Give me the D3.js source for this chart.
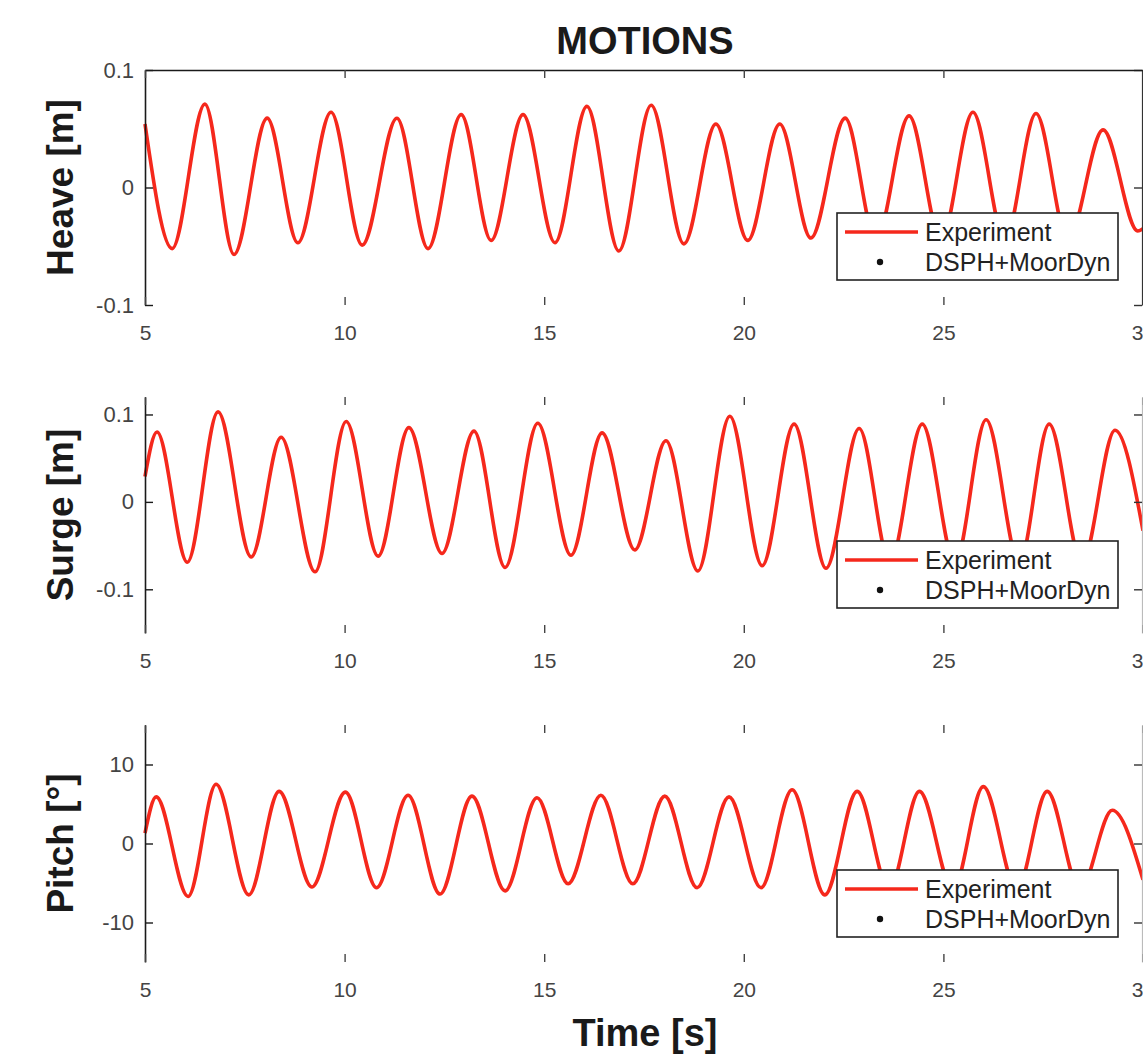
<!DOCTYPE html>
<html>
<head>
<meta charset="utf-8">
<script src="https://cdn.jsdelivr.net/npm/d3@7"></script>
<style>
  body { margin: 0; background: #fff; }
  text { font-family: "Liberation Sans", Arial, Helvetica, sans-serif; }
</style>
</head>
<body>
<div id="chart"></div>
<script>
// values: turning points of each record (time s, value)
const xTicks = [5, 10, 15, 20, 25, 30];

const heaveTime = [5.0, 5.68, 6.5, 7.23, 8.06, 8.83, 9.66, 10.44, 11.31, 12.09, 12.92, 13.67, 14.47, 15.27, 16.07, 16.87, 17.68, 18.5, 19.3, 20.1, 20.9, 21.68, 22.54, 23.31, 24.14, 24.94, 25.74, 26.54, 27.32, 28.12, 29.0, 29.87, 30.0];
const heaveVals = [0.054, -0.052, 0.071, -0.057, 0.059, -0.047, 0.064, -0.049, 0.059, -0.052, 0.062, -0.045, 0.062, -0.047, 0.069, -0.054, 0.070, -0.048, 0.054, -0.045, 0.054, -0.043, 0.059, -0.045, 0.061, -0.045, 0.064, -0.045, 0.063, -0.045, 0.049, -0.037, -0.035];

const surgeTime = [5.0, 5.3, 6.06, 6.83, 7.66, 8.41, 9.26, 10.04, 10.84, 11.61, 12.44, 13.24, 14.02, 14.84, 15.67, 16.45, 17.27, 18.05, 18.85, 19.65, 20.46, 21.26, 22.06, 22.89, 23.66, 24.47, 25.29, 26.07, 26.9, 27.65, 28.47, 29.3, 30.0];
const surgeVals = [0.029, 0.080, -0.069, 0.103, -0.063, 0.074, -0.080, 0.092, -0.062, 0.085, -0.059, 0.081, -0.075, 0.090, -0.061, 0.079, -0.055, 0.070, -0.079, 0.098, -0.073, 0.089, -0.076, 0.084, -0.070, 0.089, -0.070, 0.094, -0.070, 0.089, -0.070, 0.082, -0.033];

const pitchTime = [5.0, 5.28, 6.08, 6.78, 7.6, 8.36, 9.18, 10.02, 10.8, 11.59, 12.39, 13.19, 14.02, 14.82, 15.6, 16.42, 17.22, 18.02, 18.83, 19.63, 20.43, 21.21, 22.03, 22.84, 23.64, 24.4, 25.24, 26.0, 26.84, 27.6, 28.42, 29.23, 30.0];
const pitchVals = [1.3, 5.9, -6.7, 7.5, -6.5, 6.6, -5.5, 6.5, -5.6, 6.1, -6.4, 6.0, -6.0, 5.8, -5.1, 6.1, -5.1, 6.0, -5.6, 5.9, -5.6, 6.8, -6.5, 6.6, -5.9, 6.6, -5.9, 7.2, -5.9, 6.6, -5.9, 4.2, -4.6];

const heaveTicks = [-0.1, 0, 0.1];
const surgeTicks = [-0.1, 0, 0.1];
const pitchTicks = [-10, 0, 10];

const legendNames = ['Experiment', 'DSPH+MoorDyn'];

const W = 1143, H = 1054;
const left = 145, right = 1143;
const red = '#f5281c';

const svg = d3.select('#chart').append('svg')
  .attr('width', W)
  .attr('height', H);

const x = d3.scaleLinear().domain([5, 30]).range([left, right]);

const panels = [
  {label: 'Heave [m]', t: heaveTime, v: heaveVals, dom: [-0.1, 0.1], ticks: heaveTicks, top: 70, bottom: 305, topLine: true},
  {label: 'Surge [m]', t: surgeTime, v: surgeVals, dom: [-0.15, 0.12], ticks: surgeTicks, top: 397, bottom: 633, topLine: false},
  {label: 'Pitch [\u00B0]', t: pitchTime, v: pitchVals, dom: [-15, 15], ticks: pitchTicks, top: 725, bottom: 962, topLine: false}
];

panels.forEach(p => {
  const y = d3.scaleLinear().domain(p.dom).range([p.bottom, p.top]);
  const g = svg.append('g');

  // curve through the read turning points
  const line = d3.line()
    .x((d, i) => x(p.t[i]))
    .y(d => y(d))
    .curve(d3.curveMonotoneX);

  g.append('path')
    .datum(p.v)
    .attr('fill', 'none')
    .attr('stroke', red)
    .attr('stroke-width', 3.6)
    .attr('stroke-linejoin', 'round')
    .attr('d', line);

  // axes, matlab style inward ticks
  const yAxis = g.append('g')
    .attr('transform', `translate(${left},0)`)
    .call(d3.axisLeft(y).tickValues(p.ticks).tickSize(-8).tickSizeOuter(0).tickPadding(11)
      .tickFormat(d => d === 0 ? '0' : String(d)));
  yAxis.select('.domain').attr('stroke', '#1a1a1a').attr('stroke-width', 1.6);
  yAxis.selectAll('.tick line').attr('stroke', '#1a1a1a').attr('stroke-width', 1.4);
  yAxis.selectAll('text').attr('font-size', 22).attr('fill', '#444');

  const rAxis = g.append('g')
    .attr('transform', `translate(${right - 1},0)`)
    .call(d3.axisRight(y).tickValues(p.ticks).tickSize(-8).tickSizeOuter(0).tickFormat(''));
  rAxis.select('.domain').attr('stroke', p.topLine ? '#333' : '#bbb').attr('stroke-width', 1.2);
  rAxis.selectAll('.tick line').attr('stroke', '#333').attr('stroke-width', 1.4);

  const xAxis = g.append('g')
    .attr('transform', `translate(0,${p.bottom})`)
    .call(d3.axisBottom(x).tickValues(xTicks).tickSize(-8).tickSizeOuter(0).tickPadding(20));
  xAxis.select('.domain').remove();
  xAxis.selectAll('.tick line').attr('stroke', '#444').attr('stroke-width', 1.4);
  xAxis.selectAll('text').attr('font-size', 21).attr('fill', '#444');

  const tAxis = g.append('g')
    .attr('transform', `translate(0,${p.top})`)
    .call(d3.axisTop(x).tickValues(xTicks).tickSize(-8).tickSizeOuter(0).tickFormat(''));
  if (p.topLine) {
    tAxis.select('.domain').attr('stroke', '#1a1a1a').attr('stroke-width', 1.6);
  } else {
    tAxis.select('.domain').remove();
  }
  tAxis.selectAll('.tick line').attr('stroke', '#444').attr('stroke-width', 1.4);

  // y label
  g.append('text')
    .attr('transform', `translate(73,${(p.top + p.bottom) / 2}) rotate(-90)`)
    .attr('text-anchor', 'middle')
    .attr('font-size', 37)
    .attr('font-weight', 'bold')
    .attr('fill', '#1a1a1a')
    .text(p.label);

  // legend, lower right
  const lg = g.append('g').attr('transform', `translate(837,${p.bottom - 92})`);
  lg.append('rect')
    .attr('width', 281).attr('height', 67)
    .attr('fill', '#fff')
    .attr('stroke', '#222').attr('stroke-width', 1.6);
  lg.append('line')
    .attr('x1', 8).attr('x2', 81).attr('y1', 19).attr('y2', 19)
    .attr('stroke', red).attr('stroke-width', 3.6);
  lg.append('circle')
    .attr('cx', 43).attr('cy', 49).attr('r', 3.2)
    .attr('fill', '#111');
  lg.selectAll('text.leg')
    .data(legendNames)
    .enter().append('text')
    .attr('class', 'leg')
    .attr('x', 88)
    .attr('y', (d, i) => 28 + i * 30)
    .attr('font-size', 25)
    .attr('fill', '#222')
    .text(d => d);
});

svg.append('text')
  .attr('x', 645).attr('y', 54)
  .attr('text-anchor', 'middle')
  .attr('font-size', 38)
  .attr('font-weight', 'bold')
  .attr('fill', '#1a1a1a')
  .text('MOTIONS');

svg.append('text')
  .attr('x', 645).attr('y', 1046)
  .attr('text-anchor', 'middle')
  .attr('font-size', 38)
  .attr('font-weight', 'bold')
  .attr('fill', '#1a1a1a')
  .text('Time [s]');
</script>
</body>
</html>
